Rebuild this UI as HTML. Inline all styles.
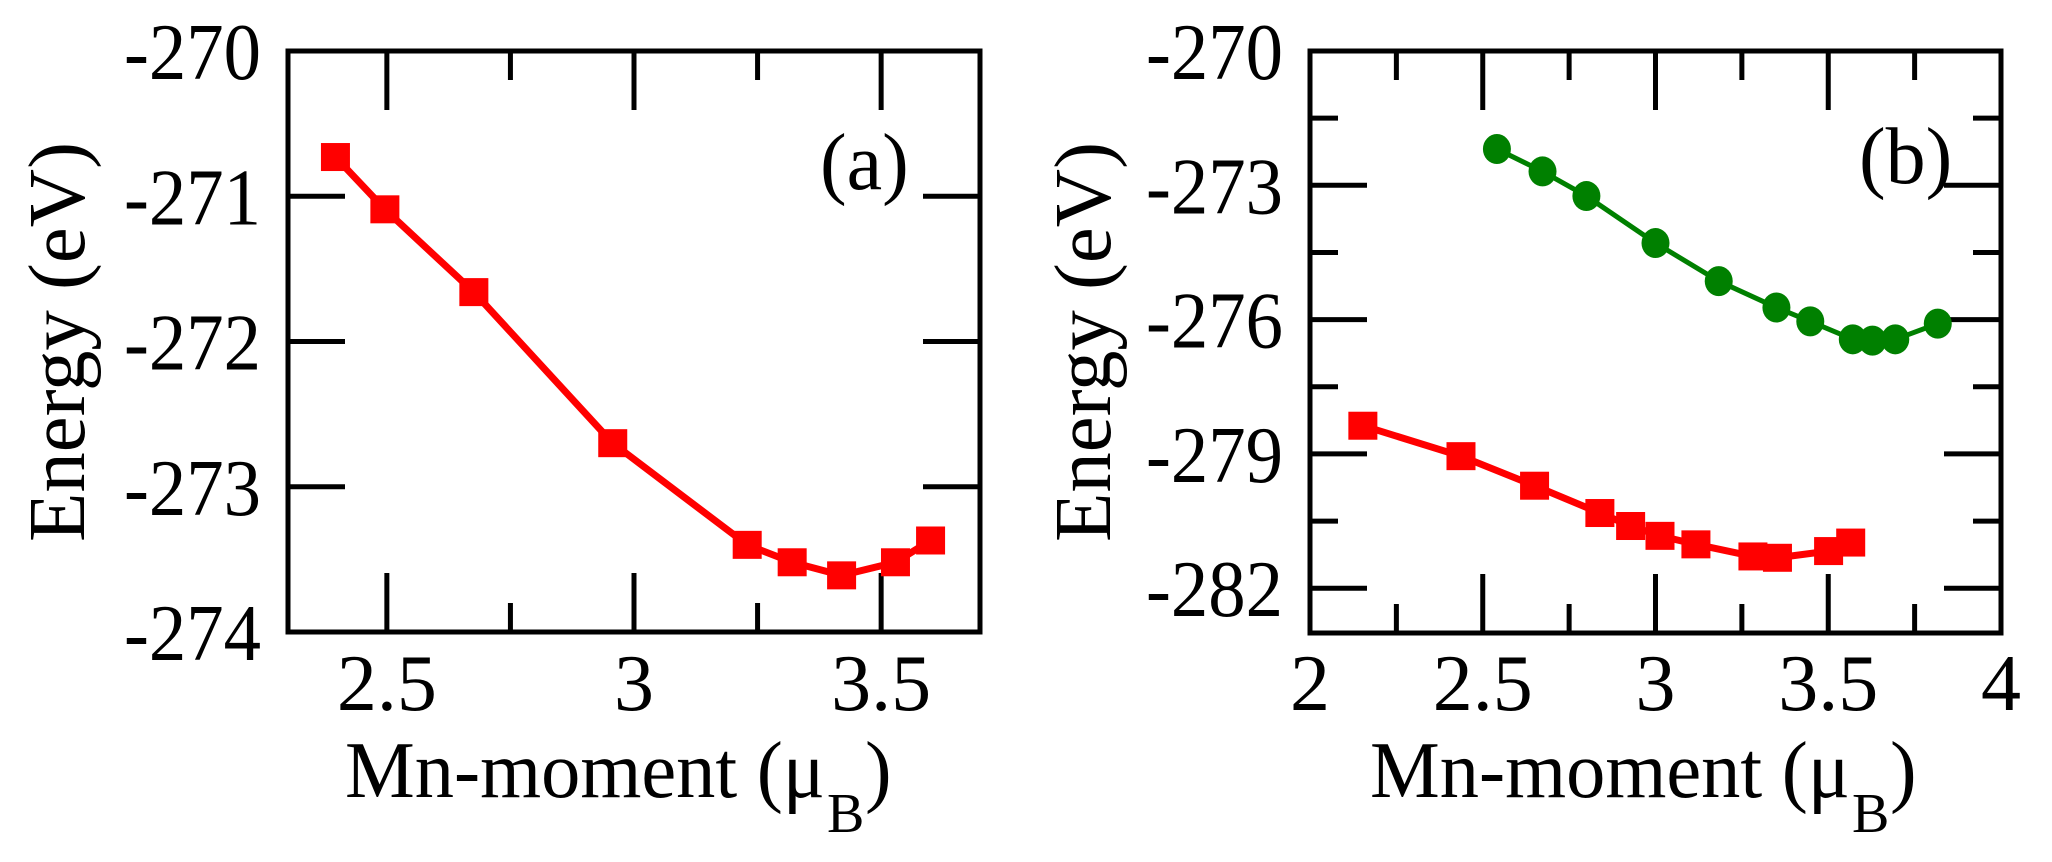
<!DOCTYPE html>
<html><head><meta charset="utf-8"><style>
html,body{margin:0;padding:0;background:#fff;}
svg{display:block;font-family:"Liberation Serif",serif;}
</style></head><body>
<svg id="chart" width="2052" height="862" viewBox="0 0 2052 862" xmlns="http://www.w3.org/2000/svg"></svg>
<script>
const aX = [2.396, 2.496, 2.676, 2.957, 3.229, 3.32, 3.42, 3.529, 3.60];
const aY = [-270.73, -271.09, -271.66, -272.70, -273.40, -273.52, -273.61, -273.52, -273.37];
const bGreenX = [2.541, 2.673, 2.800, 3.000, 3.183, 3.350, 3.448, 3.571, 3.628, 3.694, 3.817];
const bGreenY = [-272.19, -272.69, -273.24, -274.29, -275.14, -275.73, -276.04, -276.44, -276.47, -276.44, -276.09];
const bRedX = [2.153, 2.437, 2.650, 2.839, 2.928, 3.013, 3.117, 3.282, 3.353, 3.501, 3.565];
const bRedY = [-278.37, -279.05, -279.71, -280.32, -280.61, -280.83, -281.02, -281.29, -281.32, -281.17, -280.98];
const aXTicks = [2.5, 3, 3.5];
const aXMinor = [2.75, 3.25];
const aYTicks = [-270, -271, -272, -273, -274];
const bXTicks = [2, 2.5, 3, 3.5, 4];
const bXMinor = [2.25, 2.75, 3.25, 3.75];
const bYTicks = [-270, -273, -276, -279, -282];
const bYMinor = [-271.5, -274.5, -277.5, -280.5];

const NS = "http://www.w3.org/2000/svg";
const svg = document.getElementById('chart');
function mk(tag, attrs, parent){
  const e = document.createElementNS(NS, tag);
  for (const k in attrs) e.setAttribute(k, attrs[k]);
  (parent||svg).appendChild(e);
  return e;
}

function panel(cfg){
  const g = mk('g', {});
  
  
  const L=cfg.left,R=cfg.right,T=cfg.top,B=cfg.bottom;
  const sx = v => L + (v-cfg.xmin)/(cfg.xmax-cfg.xmin)*(R-L);
  const sy = v => T + (cfg.ymax-v)/(cfg.ymax-cfg.ymin)*(B-T);
  // ticks
  cfg.xTicks.forEach(v=>{
    const x=sx(v);
    const t1=mk('line',{x1:x,x2:x,y1:B,y2:B-59,stroke:'#000','stroke-width':5},g);
     
    mk('line',{x1:x,x2:x,y1:T,y2:T+59,stroke:'#000','stroke-width':5},g);
    const tx=mk('text',{x:x,y:710,'font-size':80,'text-anchor':'middle'},g);
     
    tx.textContent=String(v);
  });
  cfg.xMinor.forEach(v=>{
    const x=sx(v);
    mk('line',{x1:x,x2:x,y1:B,y2:B-29,stroke:'#000','stroke-width':5},g);
    mk('line',{x1:x,x2:x,y1:T,y2:T+29,stroke:'#000','stroke-width':5},g);
  });
  cfg.yTicks.forEach(v=>{
    const y=sy(v);
    const t1=mk('line',{x1:L,x2:L+57,y1:y,y2:y,stroke:'#000','stroke-width':5},g);
     
    mk('line',{x1:R,x2:R-57,y1:y,y2:y,stroke:'#000','stroke-width':5},g);
    const tx=mk('text',{x:L-27,y:y+28,'font-size':80,'text-anchor':'end',textLength:137,lengthAdjust:'spacingAndGlyphs'},g);
     
    tx.textContent=String(v);
  });
  cfg.yMinor.forEach(v=>{
    const y=sy(v);
    mk('line',{x1:L,x2:L+28,y1:y,y2:y,stroke:'#000','stroke-width':5},g);
    mk('line',{x1:R,x2:R-28,y1:y,y2:y,stroke:'#000','stroke-width':5},g);
  });
  const fr=mk('rect',{x:L,y:T,width:R-L,height:B-T,fill:'none',stroke:'#000','stroke-width':5},g);
   
  // series
  cfg.series.forEach(s=>{
    const pts=s.x.map((v,i)=>sx(v)+','+sy(s.y[i])).join(' ');
    const pl=mk('polyline',{points:pts,fill:'none',stroke:s.color,'stroke-width':s.lw},g);
     
    s.x.forEach((v,i)=>{
      let m;
      if(s.marker==='square'){
        m=mk('rect',{x:sx(v)-14.5,y:sy(s.y[i])-14,width:29,height:28,fill:s.color},g);
      } else {
        m=mk('ellipse',{cx:sx(v),cy:sy(s.y[i]),rx:14,ry:15,fill:s.color},g);
      }
       
    });
  });
  // axis titles
  const xt=mk('text',{x:cfg.xlabelX,y:797,'font-size':80,textLength:480,lengthAdjust:'spacingAndGlyphs'},g);
   
  xt.textContent='Mn-moment (μ';
  const sub=mk('text',{x:cfg.xlabelX+482,y:832,'font-size':56},g);
   
  sub.textContent='B';
  const cp=mk('text',{x:cfg.xlabelX+520,y:797,'font-size':80},g);
  cp.textContent=')';
  const yt=mk('text',{x:0,y:0,'font-size':80,'text-anchor':'middle',textLength:400,lengthAdjust:'spacingAndGlyphs',transform:'translate('+cfg.ylabelX+',342) rotate(-90)'},g);
   
  yt.textContent='Energy (eV)';
  const pl=mk('text',{x:cfg.tagX,y:cfg.tagY,'font-size':80},g);
   
  pl.textContent=cfg.tag;
}

panel({name:'panel-a',left:288,right:980,top:51,bottom:632,xmin:2.3,xmax:3.7,ymin:-274,ymax:-270,
  xTicks:aXTicks,xMinor:aXMinor,yTicks:aYTicks,yMinor:[],
  series:[{name:'red-series-a',x:aX,y:aY,color:'#ff0000',lw:7,marker:'square'}],
  xlabelX:345,ylabelX:84,tag:'(a)',tagX:820,tagY:189});
panel({name:'panel-b',left:1310,right:2001,top:51,bottom:633,xmin:2,xmax:4,ymin:-283,ymax:-270,
  xTicks:bXTicks,xMinor:bXMinor,yTicks:bYTicks,yMinor:bYMinor,
  series:[{name:'green-series-b',x:bGreenX,y:bGreenY,color:'#008000',lw:5,marker:'circle'},
          {name:'red-series-b',x:bRedX,y:bRedY,color:'#ff0000',lw:7,marker:'square'}],
  xlabelX:1370,ylabelX:1110,tag:'(b)',tagX:1859,tagY:183});
</script>
</body></html>
